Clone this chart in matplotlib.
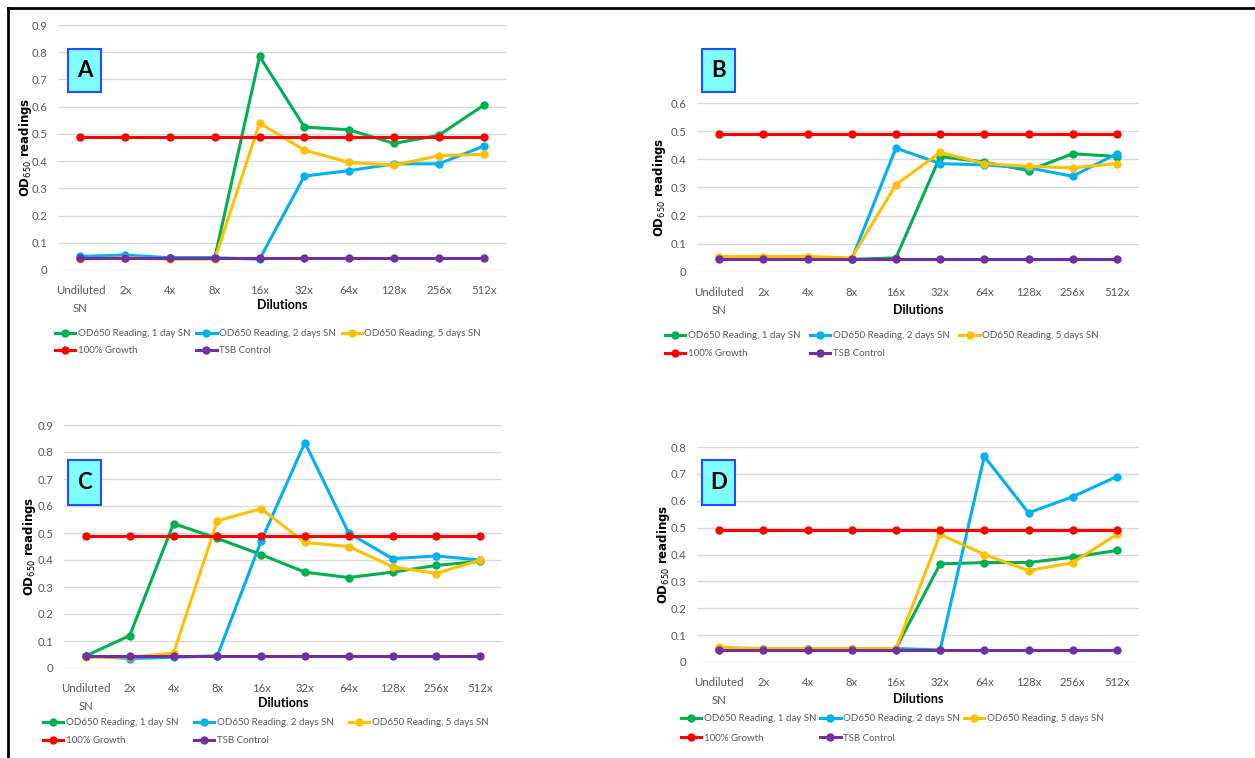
import matplotlib
matplotlib.use('Agg')
import matplotlib.pyplot as plt
from matplotlib.patches import Rectangle
from matplotlib.lines import Line2D

W, H = 1255, 758

dilutions = ['Undiluted\nSN', '2x', '4x', '8x', '16x', '32x', '64x', '128x', '256x', '512x']
series_names = ['OD650 Reading, 1 day SN', 'OD650 Reading, 2 days SN',
                'OD650 Reading, 5 days SN', '100% Growth', 'TSB Control']
colors = ['#00B050', '#00B0F0', '#FFC000', '#FF0000', '#7030A0']

growth = [0.49, 0.49, 0.49, 0.49, 0.49, 0.49, 0.49, 0.49, 0.49, 0.49]
tsb = [0.045, 0.045, 0.045, 0.045, 0.045, 0.045, 0.045, 0.045, 0.045, 0.045]

# panel A
a_1day = [0.045, 0.045, 0.045, 0.045, 0.785, 0.525, 0.515, 0.465, 0.495, 0.605]
a_2days = [0.05, 0.055, 0.045, 0.045, 0.04, 0.345, 0.365, 0.39, 0.39, 0.455]
a_5days = [0.04, 0.045, 0.04, 0.04, 0.54, 0.44, 0.395, 0.385, 0.42, 0.425]
# panel B
b_1day = [0.05, 0.05, 0.05, 0.045, 0.05, 0.41, 0.39, 0.36, 0.42, 0.41]
b_2days = [0.05, 0.05, 0.05, 0.045, 0.44, 0.385, 0.38, 0.37, 0.34, 0.42]
b_5days = [0.055, 0.055, 0.055, 0.05, 0.31, 0.425, 0.385, 0.375, 0.37, 0.385]
# panel C
c_1day = [0.045, 0.12, 0.535, 0.48, 0.42, 0.355, 0.335, 0.355, 0.38, 0.395]
c_2days = [0.045, 0.035, 0.04, 0.045, 0.47, 0.835, 0.50, 0.405, 0.415, 0.40]
c_5days = [0.04, 0.04, 0.055, 0.545, 0.59, 0.465, 0.45, 0.375, 0.35, 0.40]
# panel D
d_1day = [0.05, 0.05, 0.05, 0.05, 0.05, 0.365, 0.37, 0.37, 0.39, 0.415]
d_2days = [0.05, 0.05, 0.05, 0.05, 0.05, 0.045, 0.765, 0.555, 0.615, 0.69]
d_5days = [0.055, 0.05, 0.05, 0.05, 0.05, 0.475, 0.40, 0.34, 0.37, 0.475]

narrow = ['Lato', 'DejaVu Sans']

fig = plt.figure(figsize=(W / 100, H / 100), dpi=100)


def fx(x):
    return x / W


def fy(y):
    return 1 - y / H


def panel(box, ymax, series, letter, letter_box, ylabel_x, xlabel_y, leg_xy, colspace, rowspace):
    x0, y0, x1, y1 = box
    ax = fig.add_axes([fx(x0), fy(y1), (x1 - x0) / W, (y1 - y0) / H])
    for vals, c in zip(series, colors):
        ax.plot(range(len(dilutions)), vals, color=c, lw=2.2, marker='o', ms=5)
    ax.set_xlim(-0.5, 9.5)
    ax.set_ylim(0, ymax)
    n = int(round(ymax * 10))
    ax.set_yticks([i / 10 for i in range(n + 1)])
    ax.set_yticklabels(['0'] + ['%.1f' % (i / 10) for i in range(1, n + 1)])
    ax.set_xticks(range(len(dilutions)))
    ax.set_xticklabels(dilutions, multialignment='center', linespacing=1.7)
    for lab in ax.get_xticklabels() + ax.get_yticklabels():
        lab.set_family(narrow)
        lab.set_fontsize(8.2)
        lab.set_color('#595959')
    ax.tick_params(axis='y', length=0, pad=7.5)
    ax.tick_params(axis='x', length=0, pad=11)
    ax.grid(axis='y', color='#D9D9D9', lw=1)
    ax.set_axisbelow(True)
    for s in ax.spines.values():
        s.set_visible(False)
    fig.text(fx(ylabel_x), fy((y0 + y1) / 2), r'OD$_{650}$ readings', rotation=90,
             ha='center', va='center', fontsize=8.5, fontweight='bold')
    fig.text(fx((x0 + x1) / 2), fy(xlabel_y), 'Dilutions', ha='center', va='center',
             fontsize=9, fontweight='bold', family=narrow)
    lx0, ly0, lx1, ly1 = letter_box
    fig.patches.append(Rectangle((fx(lx0), fy(ly1)), (lx1 - lx0) / W, (ly1 - ly0) / H,
                                 transform=fig.transFigure, facecolor='#80FFFF',
                                 edgecolor='#1F4FFF', lw=1.5))
    fig.text(fx((lx0 + lx1) / 2), fy((ly0 + ly1) / 2), letter, ha='center', va='center',
             fontsize=16, fontweight='bold', family=narrow)
    lines = ax.get_lines()
    order = [0, 3, 1, 4, 2]
    fig.legend([lines[i] for i in order], [series_names[i] for i in order],
               loc='upper left', bbox_to_anchor=(fx(leg_xy[0]), fy(leg_xy[1])),
               bbox_transform=fig.transFigure, ncol=3, frameon=False,
               prop={'family': narrow, 'size': 7}, labelcolor='#595959',
               handlelength=2.1, handletextpad=0.25, columnspacing=colspace,
               borderpad=0, borderaxespad=0, labelspacing=rowspace)
    return ax


panel((58, 25, 506, 270), 0.9, [a_1day, a_2days, a_5days, growth, tsb], 'A',
      (68, 49, 101, 92), 25, 305, (55, 329), 0.6, 0.85)
panel((697, 103, 1139, 272), 0.6, [b_1day, b_2days, b_5days, growth, tsb], 'B',
      (702, 49, 735, 92), 659, 310, (665, 331), 1.0, 0.95)
panel((64, 425, 502, 668), 0.9, [c_1day, c_2days, c_5days, growth, tsb], 'C',
      (68, 460, 101, 505), 30, 703, (43, 718), 1.6, 0.95)
panel((697, 447, 1139, 662), 0.8, [d_1day, d_2days, d_5days, growth, tsb], 'D',
      (702, 460, 735, 505), 664, 699, (681, 714), 0.4, 1.1)

# outer frame on left and top
fig.add_artist(Line2D([fx(8), fx(8)], [fy(8), 0], color='black', lw=2, transform=fig.transFigure))
fig.add_artist(Line2D([fx(8), 1], [fy(8), fy(8)], color='black', lw=2, transform=fig.transFigure))

fig.savefig('out.png', dpi=100)
